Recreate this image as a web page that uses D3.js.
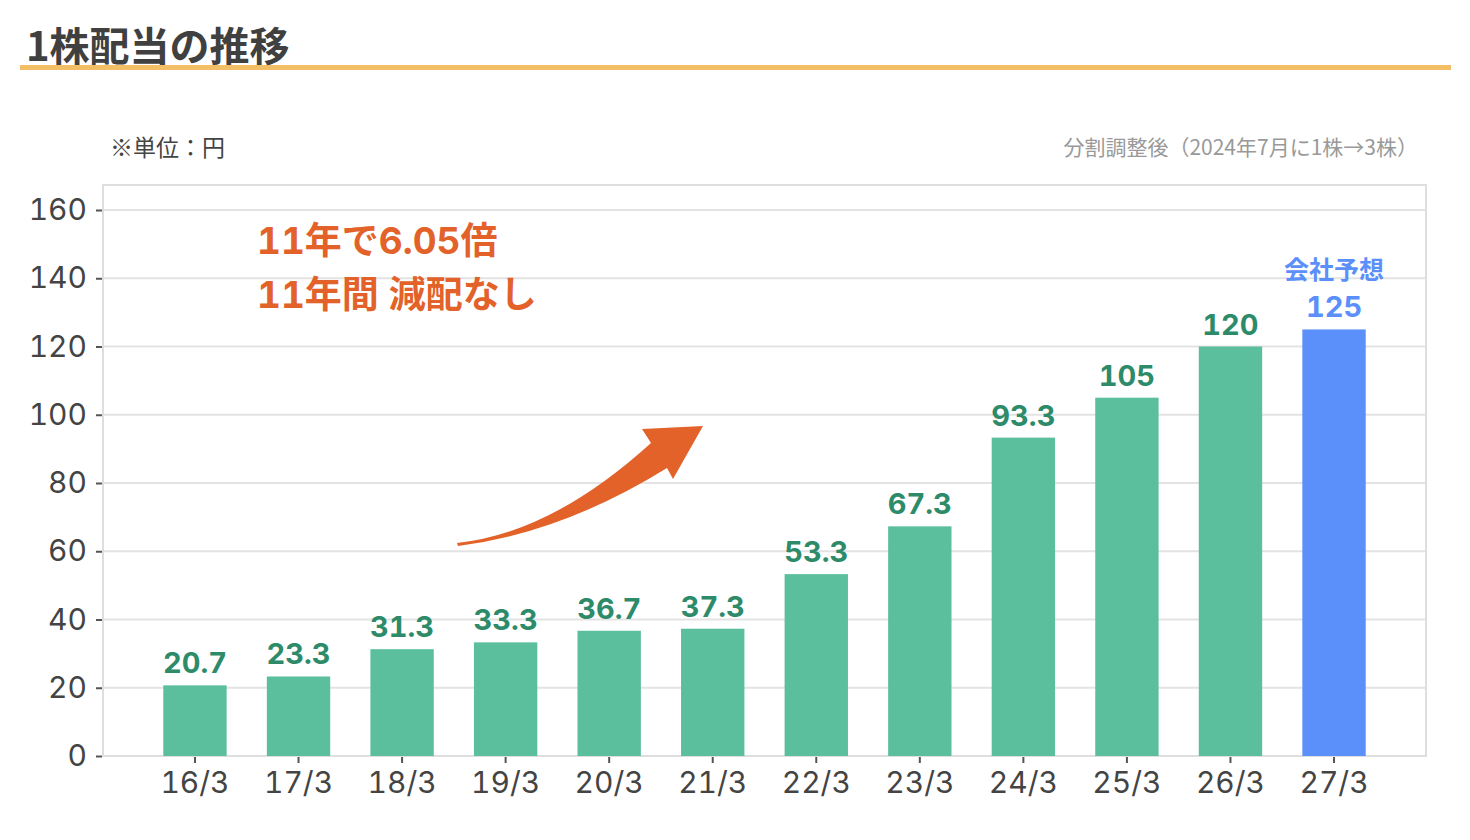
<!DOCTYPE html>
<html lang="ja">
<head>
<meta charset="utf-8">
<script src="https://cdn.jsdelivr.net/npm/d3@7"></script>
<style>
  html, body { margin: 0; padding: 0; background: #fff; }
  svg text { font-family: "Noto Sans CJK JP", "Noto Sans", sans-serif; }
  svg text.num { font-family: Inter, "Noto Sans CJK JP", sans-serif; font-feature-settings: "tnum" 1; }
</style>
</head>
<body>
<div id="chart"></div>
<script>
// Data
const categories = ['16/3', '17/3', '18/3', '19/3', '20/3', '21/3', '22/3', '23/3', '24/3', '25/3', '26/3', '27/3'];
const dividends = [20.7, 23.3, 31.3, 33.3, 36.7, 37.3, 53.3, 67.3, 93.3, 105, 120, 125];
const forecastFlags = [false, false, false, false, false, false, false, false, false, false, false, true];
const yTicks = [0, 20, 40, 60, 80, 100, 120, 140, 160];

const width = 1470;
const height = 840;

const svg = d3.select('#chart')
    .append('svg')
    .attr('width', width)
    .attr('height', height);

// Title + underline
svg.append('text')
    .attr('x', 26)
    .attr('y', 61)
    .attr('font-size', 40)
    .attr('font-weight', 700)
    .attr('fill', '#404040')
    .text('1株配当の推移');

svg.append('rect')
    .attr('x', 20)
    .attr('y', 65)
    .attr('width', 1431)
    .attr('height', 5)
    .attr('fill', '#F2BE66');

// Notes
svg.append('text')
    .attr('x', 110)
    .attr('y', 156)
    .attr('font-size', 23)
    .attr('fill', '#444')
    .text('※単位：円');

svg.append('text')
    .attr('x', 1418)
    .attr('y', 155)
    .attr('text-anchor', 'end')
    .attr('font-size', 21)
    .attr('fill', '#999')
    .text('分割調整後（2024年7月に1株→3株）');

// Scales
const plot = { left: 103, right: 1426, top: 185, bottom: 756 };

const x = d3.scaleBand()
    .domain(categories)
    .range([143.2, 1385.8])
    .paddingInner(0.388)
    .paddingOuter(0.194);

const y = d3.scaleLinear()
    .domain([0, 160])
    .range([plot.bottom, 210]);

// Grid
svg.append('g')
    .selectAll('line')
    .data(yTicks)
    .enter()
    .append('line')
    .attr('x1', plot.left)
    .attr('x2', plot.right)
    .attr('y1', d => y(d))
    .attr('y2', d => y(d))
    .attr('stroke', '#e3e3e3')
    .attr('stroke-width', 2);

// Plot frame
svg.append('rect')
    .attr('x', plot.left)
    .attr('y', plot.top)
    .attr('width', plot.right - plot.left)
    .attr('height', plot.bottom - plot.top)
    .attr('fill', 'none')
    .attr('stroke', '#dedede')
    .attr('stroke-width', 2);

// Axes
const yAxis = d3.axisLeft(y)
    .tickValues(yTicks)
    .tickSize(6)
    .tickPadding(9);

const yg = svg.append('g')
    .attr('transform', `translate(${plot.left - 1}, 0)`)
    .call(yAxis);
yg.select('.domain').remove();
yg.selectAll('line').attr('stroke', '#555').attr('stroke-width', 2);
yg.selectAll('text')
    .attr('class', 'num')
    .attr('font-size', 30)
    .attr('fill', '#444')
    .attr('font-family', null);

const xAxis = d3.axisBottom(x)
    .tickSize(6)
    .tickPadding(9);

const xg = svg.append('g')
    .attr('transform', `translate(0, ${plot.bottom + 1})`)
    .call(xAxis);
xg.select('.domain').remove();
xg.selectAll('line').attr('stroke', '#555').attr('stroke-width', 2);
xg.selectAll('text')
    .attr('class', 'num')
    .attr('font-size', 30)
    .attr('fill', '#444')
    .attr('font-family', null);
// axis groups carry their own font-family attr; clear it so CSS applies
yg.attr('font-family', null);
xg.attr('font-family', null);

// Bars
const rows = categories.map((c, i) => ({ cat: c, value: dividends[i], forecast: forecastFlags[i] }));

svg.append('g')
    .selectAll('rect')
    .data(rows)
    .enter()
    .append('rect')
    .attr('x', d => x(d.cat))
    .attr('width', x.bandwidth())
    .attr('y', d => y(d.value))
    .attr('height', d => y(0) - y(d.value))
    .attr('fill', d => d.forecast ? '#5B8FF9' : '#5BBF9E');

// Value labels
svg.append('g')
    .selectAll('text')
    .data(rows)
    .enter()
    .append('text')
    .attr('class', 'num')
    .attr('x', d => x(d.cat) + x.bandwidth() / 2)
    .attr('y', d => y(d.value) - 12)
    .attr('text-anchor', 'middle')
    .attr('font-size', 29)
    .attr('font-weight', 700)
    .attr('fill', d => d.forecast ? '#5B8FF9' : '#2E8B6A')
    .text(d => d.value);

// Forecast caption
rows.filter(d => d.forecast).forEach(d => {
    svg.append('text')
        .attr('x', x(d.cat) + x.bandwidth() / 2)
        .attr('y', y(d.value) - 50)
        .attr('text-anchor', 'middle')
        .attr('font-size', 25)
        .attr('font-weight', 700)
        .attr('fill', '#5B8FF9')
        .text('会社予想');
});

// Annotation
svg.append('text')
    .attr('class', 'num')
    .attr('x', 257)
    .attr('y', 254)
    .attr('font-size', 37)
    .attr('font-weight', 700)
    .attr('fill', '#E2622A')
    .text('11年で6.05倍');

svg.append('text')
    .attr('class', 'num')
    .attr('x', 257)
    .attr('y', 308)
    .attr('font-size', 37)
    .attr('font-weight', 700)
    .attr('fill', '#E2622A')
    .text('11年間 減配なし');

// Curved arrow
svg.append('path')
    .attr('d', 'M457,543 Q552,533 651,443 L642,429 L703,426 L673,479 L667,468 Q562,533 458,546 Z')
    .attr('fill', '#E2622A');
</script>
</body>
</html>
